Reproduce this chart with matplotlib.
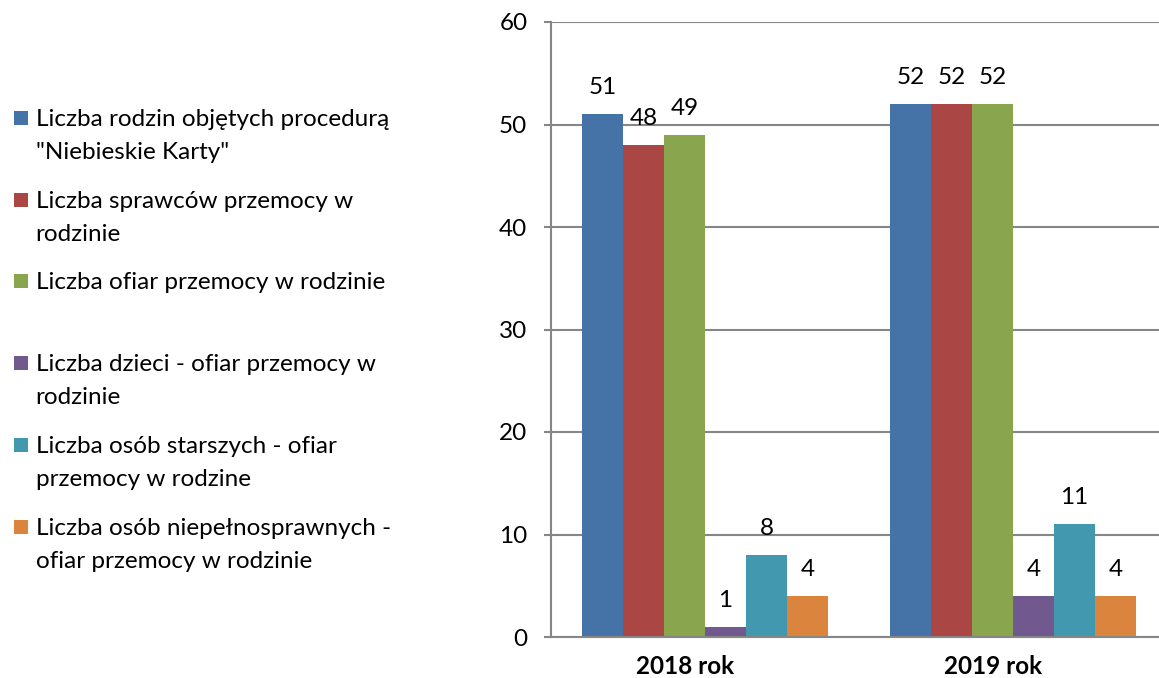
import matplotlib
matplotlib.use("Agg")
import matplotlib.pyplot as plt
import matplotlib.transforms as mtransforms
from matplotlib.patches import Rectangle
import numpy as np

plt.rcParams['font.family'] = ['Lato', 'DejaVu Sans']

categories = ["2018 rok", "2019 rok"]
series_names = [
    'Liczba rodzin objętych procedurą\n"Niebieskie Karty"',
    'Liczba sprawców przemocy w\nrodzinie',
    'Liczba ofiar przemocy w rodzinie',
    'Liczba dzieci - ofiar przemocy w\nrodzinie',
    'Liczba osób starszych - ofiar\nprzemocy w rodzine',
    'Liczba osób niepełnosprawnych -\nofiar przemocy w rodzinie',
]
values_2018 = [51, 48, 49, 1, 8, 4]
values_2019 = [52, 52, 52, 4, 11, 4]
colors = ['#4572A7', '#AA4643', '#89A54E', '#71588F', '#4198AF', '#DB843D']
yticks = [0, 10, 20, 30, 40, 50, 60]

W, H = 1159, 678
fig = plt.figure(figsize=(W / 100, H / 100), dpi=100)
ax = fig.add_axes([551 / W, 41 / H, 1 - 551 / W, 615 / H])

FS = 17.5
grid_col = '#868686'
x = np.arange(len(categories))
bw = 0.8 / len(series_names)
for i, name in enumerate(series_names):
    vals = [values_2018[i], values_2019[i]]
    pos = x + (i - 2.5) * bw
    ax.bar(pos, vals, width=bw, color=colors[i], edgecolor='none', zorder=3)
    for p, v in zip(pos, vals):
        ax.annotate(str(v), (p, v), xytext=(0, 19), textcoords='offset points',
                    ha='center', va='center', fontsize=FS, color='black')

ax.set_xlim(-0.5, -0.5 + (W - 551) / 308)
ax.set_ylim(0, 60)
ax.set_yticks(yticks)
ax.set_yticklabels([str(t) for t in yticks], fontsize=FS)
ax.yaxis.grid(True, color=grid_col, linewidth=1.5, zorder=0)
ax.tick_params(axis='y', length=5, width=1.5, color=grid_col, pad=12)
ax.set_xticks(x)
ax.set_xticklabels(categories, fontsize=FS, fontweight='bold')
ax.tick_params(axis='x', length=0, pad=13)
offset = mtransforms.ScaledTranslation(-20 / 100, 0, fig.dpi_scale_trans)
for lbl in ax.get_xticklabels():
    lbl.set_transform(lbl.get_transform() + offset)
for s in ['top', 'right']:
    ax.spines[s].set_visible(False)
ax.spines['left'].set_color(grid_col)
ax.spines['left'].set_linewidth(1.5)
ax.spines['bottom'].set_color(grid_col)
ax.spines['bottom'].set_linewidth(1.5)
ax.spines['bottom'].set_zorder(4)

# legend (manual, Excel-style: marker aligned with first line)
baselines = [126, 208, 289, 371, 453, 535]
line_gap = 33
for name, col, b in zip(series_names, colors, baselines):
    fig.patches.append(Rectangle((13.5 / W, 1 - (b - 1) / H), 14 / W, 14 / H,
                                 transform=fig.transFigure, facecolor=col, edgecolor='none'))
    for k, line in enumerate(name.split('\n')):
        fig.text(35.5 / W, 1 - (b + k * line_gap) / H, line, fontsize=FS,
                 va='baseline', ha='left', color='black')

fig.savefig('out.png', dpi=100)
